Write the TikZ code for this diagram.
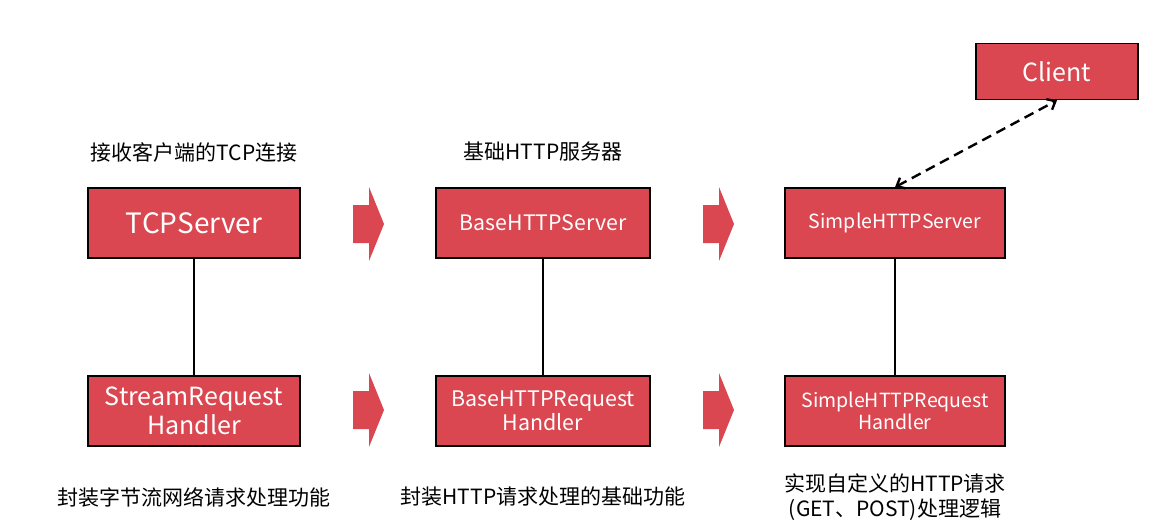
\documentclass[tikz,border=0pt]{standalone}
\usepackage{fontspec}
\setmainfont{Noto Sans CJK SC}
\usetikzlibrary{arrows.meta}
\definecolor{boxred}{RGB}{218,71,80}
\begin{document}
\begin{tikzpicture}[x=1pt, y=-1pt,
    classbox/.style={draw=black, line width=1.6pt, fill=boxred, text=white,
        minimum height=70pt, inner sep=2pt, align=center},
    note/.style={font=\fontsize{21}{25}\selectfont, align=center}]
    \useasboundingbox (0,0) rectangle (1155,527);
    % servers
    \node[classbox, minimum width=212pt, font=\fontsize{28}{31}\selectfont] (tcp) at (194,223) {TCPServer};
    \node[classbox, minimum width=214pt, font=\fontsize{21.3}{25}\selectfont] (base) at (543,223) {BaseHTTPServer};
    \node[classbox, minimum width=220pt, font=\fontsize{19.5}{23}\selectfont] (simple) at (895,223) {SimpleHTTPServer};
    \node[classbox, minimum width=162pt, minimum height=56pt, font=\fontsize{25}{28}\selectfont] (client) at (1057,71.5) {Client};
    % handlers
    \node[classbox, minimum width=212pt, font=\fontsize{25}{29}\selectfont] (tcph) at (194,411) {StreamRequest\\Handler};
    \node[classbox, minimum width=214pt, font=\fontsize{21.4}{24}\selectfont] (baseh) at (543,411) {BaseHTTPRequest\\Handler};
    \node[classbox, minimum width=220pt, font=\fontsize{19.5}{22}\selectfont] (simpleh) at (895,411) {SimpleHTTPRequest\\Handler};
    % notes
    \node[note] (tcpn) at (194,152) {接收客户端的TCP连接};
    \node[note] (basen) at (543,152) {基础HTTP服务器};
    \node[note] (tcphn) at (194,497) {封装字节流网络请求处理功能};
    \node[note] (basehn) at (543,497) {封装HTTP请求处理的基础功能};
    \node[note] (simplehn) at (895,497) {实现自定义的HTTP请求\\(GET、POST)处理逻辑};
    % links
    \draw[line width=1.5pt] (tcp) -- (tcph);
    \draw[line width=1.5pt] (base) -- (baseh);
    \draw[line width=1.5pt] (simple) -- (simpleh);
    \draw[line width=2.4pt, dash pattern=on 10pt off 6pt, {Straight Barb[length=7pt,width=12pt]}-{Straight Barb[length=7pt,width=12pt]}]
        (simple.north) -- (client.south);
    % block arrows
    \foreach \ax/\ay in {353/224, 703/224, 353/410, 703/410}
        \fill[boxred] (\ax,\ay-19) -- (\ax+16,\ay-19) -- (\ax+16,\ay-37) -- (\ax+31,\ay)
            -- (\ax+16,\ay+37) -- (\ax+16,\ay+19) -- (\ax,\ay+19) -- cycle;
\end{tikzpicture}
\end{document}
